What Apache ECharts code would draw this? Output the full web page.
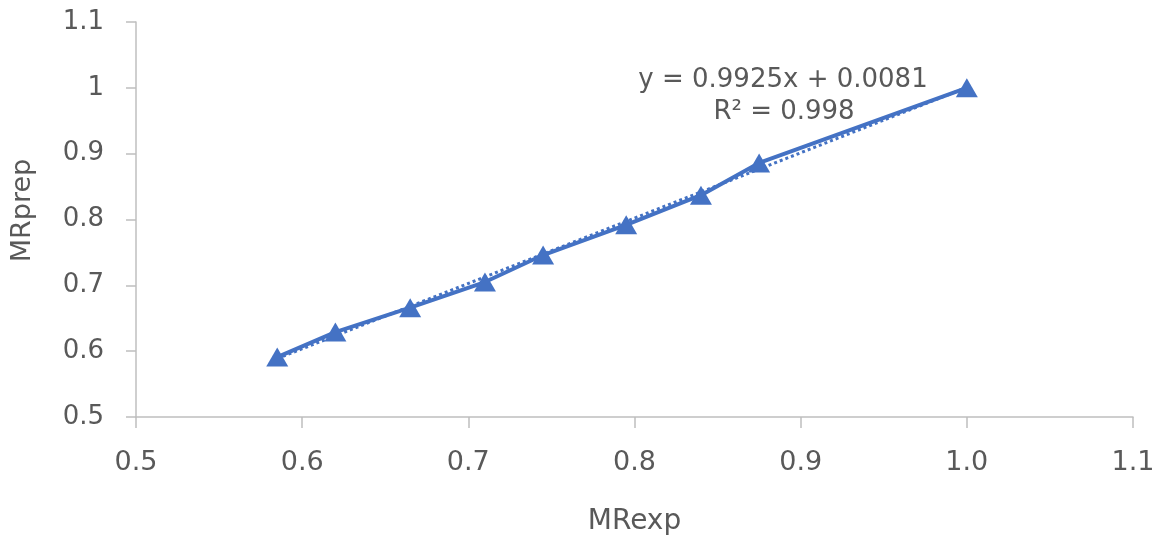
<!DOCTYPE html>
<html>
<head>
<meta charset="utf-8">
<script src="https://cdn.jsdelivr.net/npm/echarts@6/dist/echarts.min.js"></script>
<style>
  html, body { margin: 0; padding: 0; background: #fff; }
  #chart { width: 1162px; height: 542px; }
</style>
</head>
<body>
<div id="chart"></div>
<script>
// data
const mrExp = [0.585, 0.62, 0.665, 0.71, 0.745, 0.795, 0.84, 0.875, 1.0]
const mrPrep = [0.591, 0.629, 0.666, 0.705, 0.746, 0.792, 0.837, 0.886, 1.0]
const xTickLabels = ['0.5', '0.6', '0.7', '0.8', '0.9', '1.0', '1.1']
const yTickLabels = ['0.5', '0.6', '0.7', '0.8', '0.9', '1', '1.1']
// linear trendline shown on the chart
const trendSlope = 0.9925
const trendIntercept = 0.0081
const trendText = ['y = 0.9925x + 0.0081', 'R² = 0.998']

const blue = '#4472C4'
const grey = '#595959'
const font = '"DejaVu Sans", sans-serif'

const points = mrExp.map((x, i) => [x, mrPrep[i]])
const xMin = Math.min(...mrExp)
const xMax = Math.max(...mrExp)
const trendData = [xMin, xMax].map(x => [x, trendSlope * x + trendIntercept])

const chart = echarts.init(document.getElementById('chart'))
chart.setOption({
  animation: false,
  grid: { left: 136, right: 29, top: 22, bottom: 125, containLabel: false, outerBoundsMode: 'none' },
  xAxis: {
    type: 'value',
    min: 0.5,
    max: 1.1,
    interval: 0.1,
    name: 'MRexp',
    nameLocation: 'middle',
    nameGap: 91,
    nameTextStyle: { color: grey, fontSize: 28, fontFamily: font },
    axisLine: { show: true, lineStyle: { color: '#bfbfbf', width: 1.5 } },
    axisTick: { show: true, length: 11, lineStyle: { color: '#bfbfbf', width: 1.5 } },
    splitLine: { show: false },
    axisLabel: {
      margin: 32,
      color: grey,
      fontSize: 27,
      fontFamily: font,
      formatter: (v, i) => xTickLabels[i]
    }
  },
  yAxis: {
    type: 'value',
    min: 0.5,
    max: 1.1,
    interval: 0.1,
    name: 'MRprep',
    nameLocation: 'middle',
    nameGap: 100,
    nameTextStyle: { color: grey, fontSize: 27, fontFamily: font, padding: [0, 0, 0, 18] },
    axisLine: { show: true, lineStyle: { color: '#bfbfbf', width: 1.5 } },
    axisTick: { show: true, length: 10, lineStyle: { color: '#bfbfbf', width: 1.5 } },
    splitLine: { show: false },
    axisLabel: {
      margin: 32,
      color: grey,
      fontSize: 26,
      fontFamily: font,
      formatter: (v, i) => yTickLabels[i]
    }
  },
  series: [
    {
      name: 'trend',
      type: 'line',
      data: trendData,
      symbol: 'none',
      lineStyle: { color: blue, width: 3, type: 'dotted' },
      z: 1
    },
    {
      name: 'MRprep',
      type: 'line',
      data: points,
      symbol: 'triangle',
      symbolSize: [22, 19],
      itemStyle: { color: blue },
      lineStyle: { color: blue, width: 4 },
      z: 2
    }
  ],
  graphic: [
    {
      type: 'text',
      x: 783,
      y: 80,
      style: { text: trendText[0], fill: grey, font: '26px ' + font, align: 'center', verticalAlign: 'middle' }
    },
    {
      type: 'text',
      x: 784,
      y: 112,
      style: { text: trendText[1], fill: grey, font: '26px ' + font, align: 'center', verticalAlign: 'middle' }
    }
  ]
})
</script>
</body>
</html>
